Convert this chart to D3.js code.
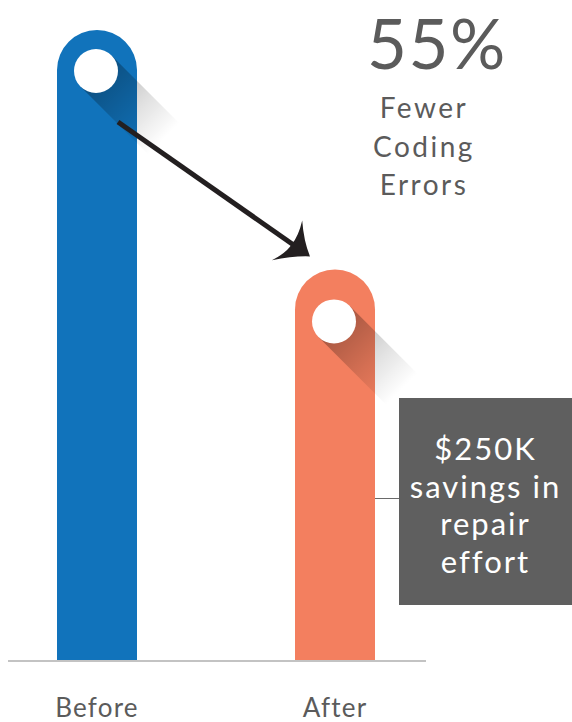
<!DOCTYPE html>
<html>
<head>
<meta charset="utf-8">
<script src="https://cdn.jsdelivr.net/npm/d3@7"></script>
<style>
  body { margin: 0; background: #fff; }
  text { font-family: Lato, "Open Sans", sans-serif; font-weight: 400; }
</style>
</head>
<body>
<div class="container"></div>
<script>
// before / after bars with a callout

var categories = ['Before', 'After']
var values = [100, 62]
var barColors = ['#1173bb', '#f37f5f']
var headline = '55%'
var headlineLines = ['Fewer', 'Coding', 'Errors']
var calloutLines = ['$250K', 'savings in', 'repair', 'effort']

var opts = {
  width: 572,
  height: 722,
  barWidth: 80,
  dotRadius: 22,
  dotOffset: [41, 52],
  textColor: '#5b5b5b'
}

var svg = d3.select('.container').append('svg')
  .attr('width', opts.width)
  .attr('height', opts.height)

var x = d3.scalePoint().domain(categories).range([97, 335])
var y = d3.scaleLinear().domain([0, 100]).range([660, 30])

var data = categories.map(function (c, i) {
  return { name: c, value: values[i], color: barColors[i], i: i }
})

var r = opts.barWidth / 2

// gradients for the long shadows
var defs = svg.append('defs')
data.forEach(function (d) {
  var cx = x(d.name) - 1, cy = y(d.value) + opts.dotOffset[d.i]
  var g = defs.append('linearGradient')
    .attr('id', 'shade' + d.i)
    .attr('gradientUnits', 'userSpaceOnUse')
    .attr('x1', cx).attr('y1', cy)
    .attr('x2', cx + 68).attr('y2', cy + 68)
  g.append('stop').attr('offset', 0).attr('stop-color', '#000').attr('stop-opacity', 0.32)
  g.append('stop').attr('offset', 0.55).attr('stop-color', '#000').attr('stop-opacity', 0.13)
  g.append('stop').attr('offset', 1).attr('stop-color', '#000').attr('stop-opacity', 0)
})

// bars with round tops
svg.selectAll('path.bar').data(data).enter().append('path')
  .attr('class', 'bar')
  .attr('fill', function (d) { return d.color })
  .attr('d', function (d) {
    var x0 = x(d.name) - r, top = y(d.value)
    return 'M' + x0 + ',' + y(0) + 'V' + (top + r) +
      'A' + r + ',' + r + ' 0 0 1 ' + (x0 + 2 * r) + ',' + (top + r) +
      'V' + y(0) + 'Z'
  })

// long shadow behind each dot
svg.selectAll('path.shadow').data(data).enter().append('path')
  .attr('class', 'shadow')
  .attr('fill', function (d) { return 'url(#shade' + d.i + ')' })
  .attr('d', function (d) {
    var cx = x(d.name) - 1, cy = y(d.value) + opts.dotOffset[d.i]
    var k = opts.dotRadius / Math.SQRT2, L = 76
    return 'M' + (cx + k) + ',' + (cy - k) +
      'L' + (cx + k + L) + ',' + (cy - k + L) +
      'L' + (cx - k + L) + ',' + (cy + k + L) +
      'L' + (cx - k) + ',' + (cy + k) + 'Z'
  })

svg.selectAll('circle.dot').data(data).enter().append('circle')
  .attr('class', 'dot')
  .attr('cx', function (d) { return x(d.name) - 1 })
  .attr('cy', function (d) { return y(d.value) + opts.dotOffset[d.i] })
  .attr('r', opts.dotRadius)
  .attr('fill', '#fff')

// arrow from before to after
var ax1 = x('Before') + 21, ay1 = y(values[0]) + 92
var ax2 = x('After') - 25, ay2 = y(values[1]) - 13
var ang = Math.atan2(ay2 - ay1, ax2 - ax1) * 180 / Math.PI
var shaftLen = Math.sqrt((ax2 - ax1) * (ax2 - ax1) + (ay2 - ay1) * (ay2 - ay1))

var arrow = svg.append('g')
  .attr('transform', 'translate(' + ax1 + ',' + ay1 + ') rotate(' + ang + ')')
arrow.append('line')
  .attr('x1', 0).attr('y1', 0)
  .attr('x2', shaftLen - 20).attr('y2', 0)
  .attr('stroke', '#231f20')
  .attr('stroke-width', 5)
arrow.append('path')
  .attr('transform', 'translate(' + shaftLen + ',0)')
  .attr('fill', '#231f20')
  .attr('d', 'M0,0 Q-14,-9 -27,-25 Q-21,-10 -22,0 Q-21,10 -29,25 Q-14,9 0,0Z')

// baseline
svg.append('line')
  .attr('x1', 8).attr('x2', 426)
  .attr('y1', y(0) + 1).attr('y2', y(0) + 1)
  .attr('stroke', '#c3c3c3')
  .attr('stroke-width', 2)

// category labels
svg.selectAll('text.cat').data(categories).enter().append('text')
  .attr('class', 'cat')
  .attr('x', function (d) { return x(d) })
  .attr('y', 717)
  .attr('text-anchor', 'middle')
  .attr('font-size', 26)
  .attr('letter-spacing', 1.2)
  .attr('fill', opts.textColor)
  .text(function (d) { return d })

// headline
svg.append('text')
  .attr('x', 437).attr('y', 69)
  .attr('text-anchor', 'middle')
  .attr('font-size', 69)
  .attr('font-weight', 300)
  .attr('letter-spacing', 1.5)
  .attr('fill', opts.textColor)
  .text(headline)

svg.selectAll('text.sub').data(headlineLines).enter().append('text')
  .attr('class', 'sub')
  .attr('x', 424)
  .attr('y', function (d, i) { return 118 + i * 38.5 })
  .attr('text-anchor', 'middle')
  .attr('font-size', 28)
  .attr('letter-spacing', 2.5)
  .attr('fill', opts.textColor)
  .text(function (d) { return d })

// callout box
var box = { x: 399, y: 398, w: 173, h: 207 }
svg.append('line')
  .attr('x1', x('After') + r).attr('x2', box.x)
  .attr('y1', 498.5).attr('y2', 498.5)
  .attr('stroke', '#6a6a6a')
  .attr('stroke-width', 1)
svg.append('rect')
  .attr('x', box.x).attr('y', box.y)
  .attr('width', box.w).attr('height', box.h)
  .attr('fill', '#5f5f5f')

svg.selectAll('text.callout').data(calloutLines).enter().append('text')
  .attr('class', 'callout')
  .attr('x', box.x + box.w / 2)
  .attr('y', function (d, i) { return 460 + i * 37.7 })
  .attr('text-anchor', 'middle')
  .attr('font-size', 31)
  .attr('letter-spacing', 2)
  .attr('fill', '#fff')
  .text(function (d) { return d })
</script>
</body>
</html>
